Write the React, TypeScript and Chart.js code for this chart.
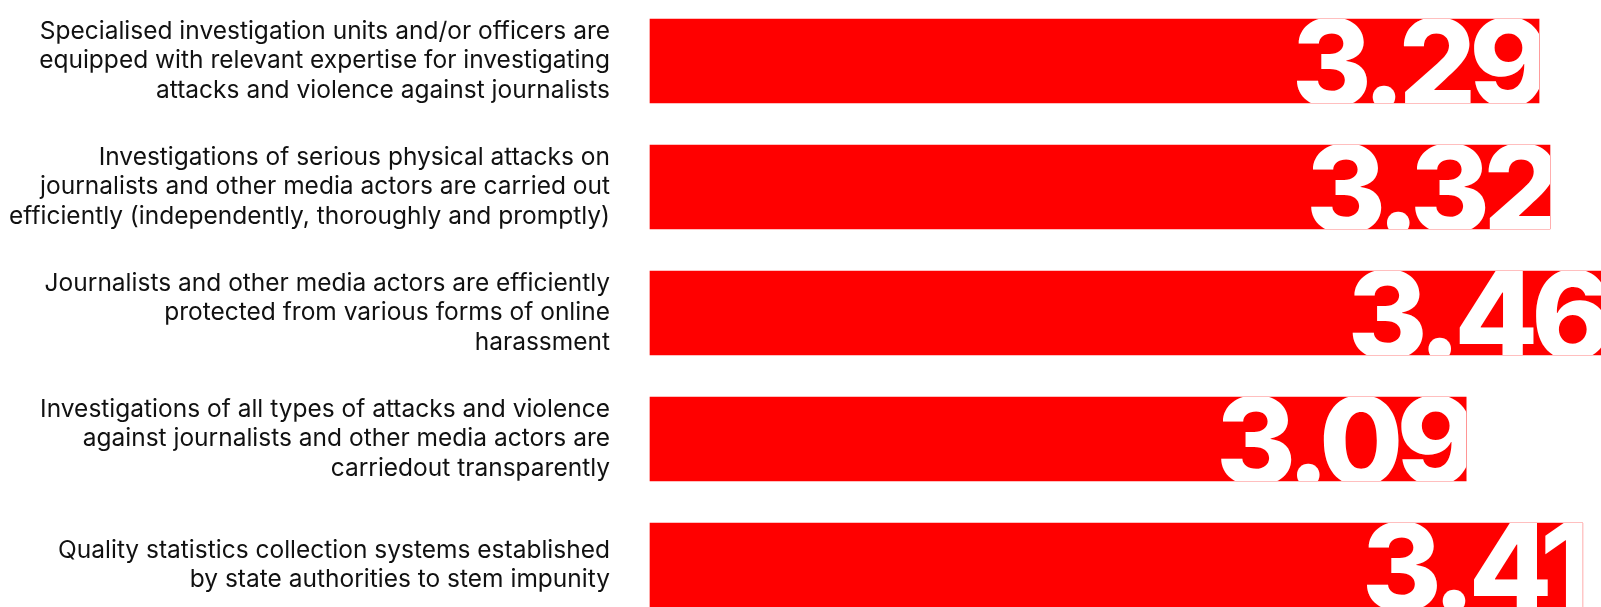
import React, { useEffect, useRef } from "react";
import { Chart, registerables } from "chart.js";

Chart.register(...registerables);

const categories: string[][] = [
  [
    "Specialised investigation units and/or officers are",
    "equipped with relevant expertise for investigating",
    "attacks and violence against journalists",
  ],
  [
    "Investigations of serious physical attacks on",
    "journalists and other media actors are carried out",
    "efficiently (independently, thoroughly and promptly)",
  ],
  [
    "Journalists and other media actors are efficiently",
    "protected from various forms of online",
    "harassment",
  ],
  [
    "Investigations of all types of attacks and violence",
    "against journalists and other media actors are",
    "carriedout transparently",
  ],
  [
    "Quality statistics collection systems established",
    "by state authorities to stem impunity",
  ],
];

const scores: number[] = [3.29, 3.32, 3.46, 3.09, 3.41];

const axisMin = 0.85;
const axisMax = 3.46;

const valueLabelPlugin = {
  id: "valueLabels",
  afterDatasetsDraw(chart: any) {
    const ctx = chart.ctx as CanvasRenderingContext2D;
    const meta = chart.getDatasetMeta(0);
    const data = chart.data.datasets[0].data as number[];
    meta.data.forEach((bar: any, i: number) => {
      const { x, y, base, height } = bar.getProps(["x", "y", "base", "height"], true);
      const top = y - height / 2;
      ctx.save();
      ctx.beginPath();
      ctx.rect(base, top, x - base, height);
      ctx.clip();
      ctx.font = "800 122px Inter";
      (ctx as any).letterSpacing = "-7px";
      ctx.fillStyle = "#ffffff";
      ctx.textAlign = "right";
      ctx.textBaseline = "alphabetic";
      ctx.fillText(Number(data[i]).toFixed(2), x + 4, top + height + 4);
      ctx.restore();
    });
  },
};

export default function App() {
  const canvasRef = useRef<HTMLCanvasElement | null>(null);

  useEffect(() => {
    if (!canvasRef.current) return;
    const chart = new Chart(canvasRef.current, {
      type: "bar",
      data: {
        labels: categories,
        datasets: [
          {
            data: scores,
            base: axisMin,
            backgroundColor: "#ff0000",
            borderWidth: 0,
            barThickness: 84,
            clip: false as any,
          } as any,
        ],
      },
      options: {
        indexAxis: "y",
        responsive: false,
        animation: false,
        layout: { padding: { top: 61, bottom: 42, left: 0, right: 0 } },
        plugins: {
          legend: { display: false },
          tooltip: { enabled: false },
        },
        scales: {
          x: {
            display: false,
            min: axisMin,
            max: axisMax,
          },
          y: {
            offset: false,
            grid: { display: false, drawTicks: false },
            border: { display: false },
            ticks: {
              padding: 40,
              color: "#111111",
              font: { family: "Inter", size: 24.5, lineHeight: 1.2 },
            },
            afterFit(scale: any) {
              scale.width = 650;
              scale.paddingTop = 0;
              scale.paddingBottom = 0;
            },
          },
        },
      },
      plugins: [valueLabelPlugin],
    });
    return () => chart.destroy();
  }, []);

  return (
    <div style={{ position: "fixed", left: 0, top: 0, width: 1601, height: 607, background: "#fff" }}>
      <canvas ref={canvasRef} width={1601} height={607} style={{ display: "block" }} />
    </div>
  );
}
